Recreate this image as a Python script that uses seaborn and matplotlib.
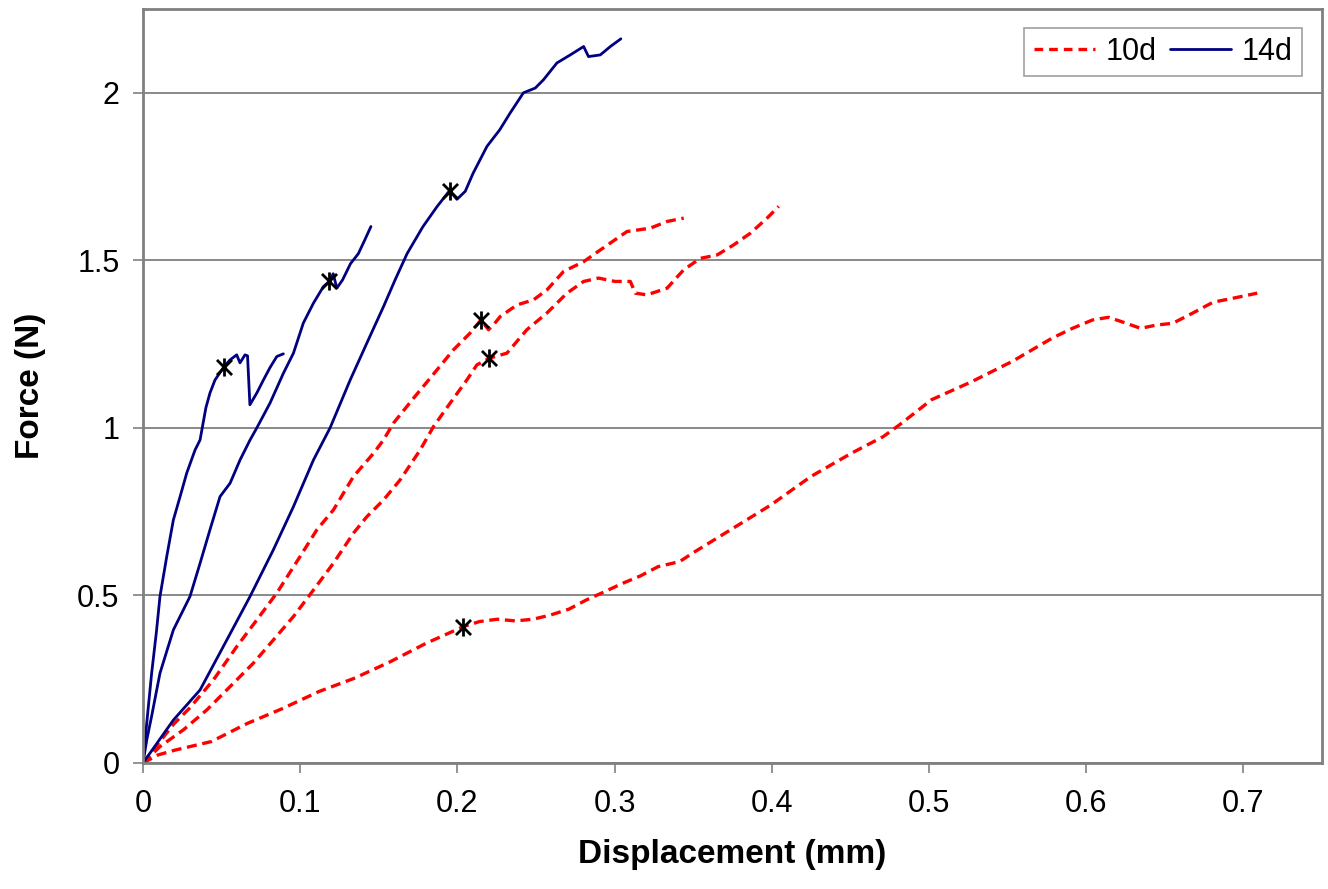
import numpy as np
import pandas as pd
import matplotlib
matplotlib.use("Agg")
import matplotlib.pyplot as plt
from matplotlib.lines import Line2D
from matplotlib.path import Path
import seaborn as sns

# ---------------- data ----------------
# 14d specimens
b1_x = [0, 0.0024, 0.0055, 0.0085, 0.0108, 0.0151, 0.0193, 0.0236, 0.0278, 0.0331, 0.0363,
        0.0400, 0.0426, 0.0458, 0.0516, 0.0554, 0.0596, 0.0617, 0.0649, 0.0665, 0.0680,
        0.0725, 0.0766, 0.0808, 0.0851, 0.0893]
b1_y = [0, 0.12, 0.268, 0.39, 0.497, 0.616, 0.725, 0.795, 0.865, 0.934, 0.964,
        1.06, 1.104, 1.143, 1.183, 1.203, 1.218, 1.194, 1.218, 1.215, 1.069,
        1.105, 1.143, 1.18, 1.213, 1.221]

b2_x = [0, 0.0024, 0.0055, 0.0108, 0.0193, 0.0299, 0.0363, 0.0426, 0.0490, 0.0554, 0.0617,
        0.0681, 0.0724, 0.0808, 0.0893, 0.0957, 0.1020, 0.1084, 0.1148, 0.1186, 0.1210,
        0.1233, 0.1270, 0.1320, 0.1370, 0.1410, 0.1450]
b2_y = [0, 0.069, 0.14, 0.268, 0.397, 0.497, 0.596, 0.696, 0.795, 0.835, 0.904,
        0.964, 1.0, 1.074, 1.163, 1.223, 1.313, 1.372, 1.422, 1.437, 1.46,
        1.417, 1.442, 1.49, 1.52, 1.56, 1.601]

b3_x = [0, 0.0193, 0.0363, 0.0533, 0.0681, 0.0829, 0.0957, 0.1084, 0.1190, 0.1318, 0.1424,
        0.1530, 0.1604, 0.1680, 0.1780, 0.1870, 0.1950, 0.1997, 0.2050, 0.2100, 0.2188,
        0.2270, 0.2336, 0.2420, 0.2495, 0.2548, 0.2633, 0.2718, 0.2803, 0.2834, 0.2909,
        0.2973, 0.3040]
b3_y = [0, 0.128, 0.218, 0.367, 0.497, 0.636, 0.765, 0.904, 1.0, 1.143, 1.253,
        1.362, 1.442, 1.52, 1.60, 1.66, 1.708, 1.682, 1.706, 1.76, 1.84,
        1.89, 1.94, 2.0, 2.014, 2.039, 2.089, 2.113, 2.138, 2.108, 2.113,
        2.138, 2.161]

# 10d specimens
r1_x = [0, 0.0193, 0.0299, 0.0448, 0.0596, 0.0724, 0.0851, 0.0999, 0.1106, 0.1211, 0.1339,
        0.1466, 0.1530, 0.1593, 0.1720, 0.1870, 0.1975, 0.2081, 0.2150, 0.2198, 0.2234,
        0.2272, 0.2379, 0.2484, 0.2570, 0.2676, 0.2803, 0.2909, 0.3079, 0.3227, 0.3334,
        0.3440]
r1_y = [0, 0.115, 0.165, 0.248, 0.347, 0.427, 0.507, 0.616, 0.696, 0.755, 0.855,
        0.924, 0.964, 1.014, 1.088, 1.173, 1.233, 1.283, 1.322, 1.293, 1.31,
        1.332, 1.367, 1.382, 1.412, 1.467, 1.496, 1.531, 1.586, 1.596, 1.616,
        1.626]

r2_x = [0, 0.0108, 0.0257, 0.0405, 0.0554, 0.0702, 0.0829, 0.0957, 0.1084, 0.1211, 0.1339,
        0.1424, 0.1530, 0.1636, 0.1763, 0.1848, 0.1954, 0.2060, 0.2124, 0.2204, 0.2315,
        0.2442, 0.2570, 0.2697, 0.2803, 0.2898, 0.3003, 0.3100, 0.3132, 0.3206, 0.3334,
        0.3440, 0.3546, 0.3652, 0.3757, 0.3864, 0.3970, 0.4044]
r2_y = [0, 0.049, 0.099, 0.158, 0.228, 0.298, 0.367, 0.437, 0.516, 0.596, 0.686,
        0.735, 0.785, 0.845, 0.934, 1.004, 1.074, 1.143, 1.188, 1.208, 1.223,
        1.293, 1.343, 1.402, 1.437, 1.447, 1.437, 1.437, 1.402, 1.397, 1.417,
        1.472, 1.506, 1.516, 1.546, 1.581, 1.626, 1.661]

r3_x = [0, 0.0095, 0.0208, 0.0435, 0.0663, 0.0890, 0.1118, 0.1345, 0.1572, 0.1800, 0.2038,
        0.2140, 0.2253, 0.2368, 0.2482, 0.2595, 0.2709, 0.2822, 0.2936, 0.3050, 0.3163,
        0.3277, 0.3414, 0.3495, 0.3738, 0.3994, 0.4249, 0.4505, 0.4709, 0.4812, 0.5016,
        0.5272, 0.5528, 0.5784, 0.5912, 0.6040, 0.6142, 0.6244, 0.6346, 0.6448, 0.6550,
        0.6679, 0.6807, 0.6935, 0.7088]
r3_y = [0, 0.024, 0.039, 0.064, 0.118, 0.163, 0.213, 0.253, 0.302, 0.357, 0.407,
        0.422, 0.429, 0.424, 0.429, 0.442, 0.459, 0.487, 0.511, 0.536, 0.558,
        0.586, 0.601, 0.626, 0.696, 0.770, 0.855, 0.924, 0.974, 1.009, 1.084,
        1.138, 1.198, 1.268, 1.297, 1.322, 1.330, 1.314, 1.297, 1.307, 1.312,
        1.343, 1.375, 1.387, 1.402]

# failure markers
star_x = [0.0516, 0.1186, 0.1950, 0.2150, 0.2204, 0.2038]
star_y = [1.183, 1.437, 1.708, 1.322, 1.208, 0.407]

series_labels = ["10d", "14d"]
x_ticks = [0, 0.1, 0.2, 0.3, 0.4, 0.5, 0.6, 0.7]
x_ticklabels = ["0", "0.1", "0.2", "0.3", "0.4", "0.5", "0.6", "0.7"]
y_ticks = [0, 0.5, 1.0, 1.5, 2.0]
y_ticklabels = ["0", "0.5", "1", "1.5", "2"]

# ---------------- build frame ----------------
curves = [("10d", "r1", r1_x, r1_y), ("10d", "r2", r2_x, r2_y), ("10d", "r3", r3_x, r3_y),
          ("14d", "b1", b1_x, b1_y), ("14d", "b2", b2_x, b2_y), ("14d", "b3", b3_x, b3_y)]
rows = []
for grp, spec, xs, ys in curves:
    for i, (xv, yv) in enumerate(zip(xs, ys)):
        rows.append({"group": grp, "specimen": spec, "order": i, "x": xv, "y": yv})
df = pd.DataFrame(rows)

# ---------------- style ----------------
sns.set_theme(style="white")
plt.rcParams["font.family"] = ["Liberation Sans", "DejaVu Sans"]

RED = "#FF0000"
NAVY = "#000080"
GRAY = "#808080"

fig = plt.figure(figsize=(13.28, 8.89), dpi=100)
W, H = 1328, 889
L, R, T, B = 143, 1322, 9, 763
ax = fig.add_axes([L / W, 1 - B / H, (R - L) / W, (B - T) / H])

# 10d (red dashed)
n0 = len(ax.lines)
for spec in ["r1", "r2", "r3"]:
    sub = df[(df.group == "10d") & (df.specimen == spec)]
    sns.lineplot(data=sub, x="x", y="y", sort=False, estimator=None, color=RED, lw=2.4,
                 ax=ax, legend=False)
for line in ax.lines[n0:]:
    line.set_dashes((3.0, 1.7))

# 14d (navy solid)
for spec in ["b1", "b2", "b3"]:
    sub = df[(df.group == "14d") & (df.specimen == spec)]
    sns.lineplot(data=sub, x="x", y="y", sort=False, estimator=None, color=NAVY, lw=2.0,
                 ax=ax, legend=False)

star_path = Path([(-1, -1), (1, 1), (-1, 1), (1, -1), (0, -1.2), (0, 1.2)],
                 [Path.MOVETO, Path.LINETO, Path.MOVETO, Path.LINETO, Path.MOVETO, Path.LINETO])
sns.scatterplot(x=star_x, y=star_y, marker=star_path, s=170, color="black",
                linewidth=2.0, edgecolor="black", ax=ax, zorder=5, legend=False)

ax.set_xlim(0, 0.75)
ax.set_ylim(0, 2.25)
ax.set_xticks(x_ticks)
ax.set_xticklabels(x_ticklabels)
ax.set_yticks(y_ticks)
ax.set_yticklabels(y_ticklabels)
ax.tick_params(axis="both", which="major", direction="out", length=7, width=1.2,
               color=GRAY, labelsize=22, labelcolor="black")
ax.tick_params(axis="x", pad=12, bottom=True)
ax.tick_params(axis="y", pad=10, left=True)

ax.yaxis.grid(True, color=GRAY, lw=1.3)
ax.xaxis.grid(False)
ax.set_axisbelow(True)
for sp in ax.spines.values():
    sp.set_visible(True)
    sp.set_color(GRAY)
    sp.set_linewidth(2.0)

ax.set_xlabel("Displacement (mm)", fontsize=24, fontweight="bold", labelpad=14, color="black")
ax.set_ylabel("Force (N)", fontsize=24, fontweight="bold", labelpad=22, color="black")

handles = [Line2D([], [], color=RED, lw=2.4, dashes=(2.6, 1.8)),
           Line2D([], [], color=NAVY, lw=2.0)]
leg = ax.legend(handles, series_labels, loc="upper right", bbox_to_anchor=(0.983, 0.975),
                borderaxespad=0, ncol=2, fontsize=22, frameon=True, fancybox=False,
                handlelength=2.0, handletextpad=0.35, columnspacing=0.45,
                borderpad=0.3, framealpha=1)
leg.get_frame().set_edgecolor("#A0A0A0")
leg.get_frame().set_linewidth(1.2)
for t in leg.get_texts():
    t.set_color("black")

fig.savefig("out.png", dpi=100, facecolor="white")
